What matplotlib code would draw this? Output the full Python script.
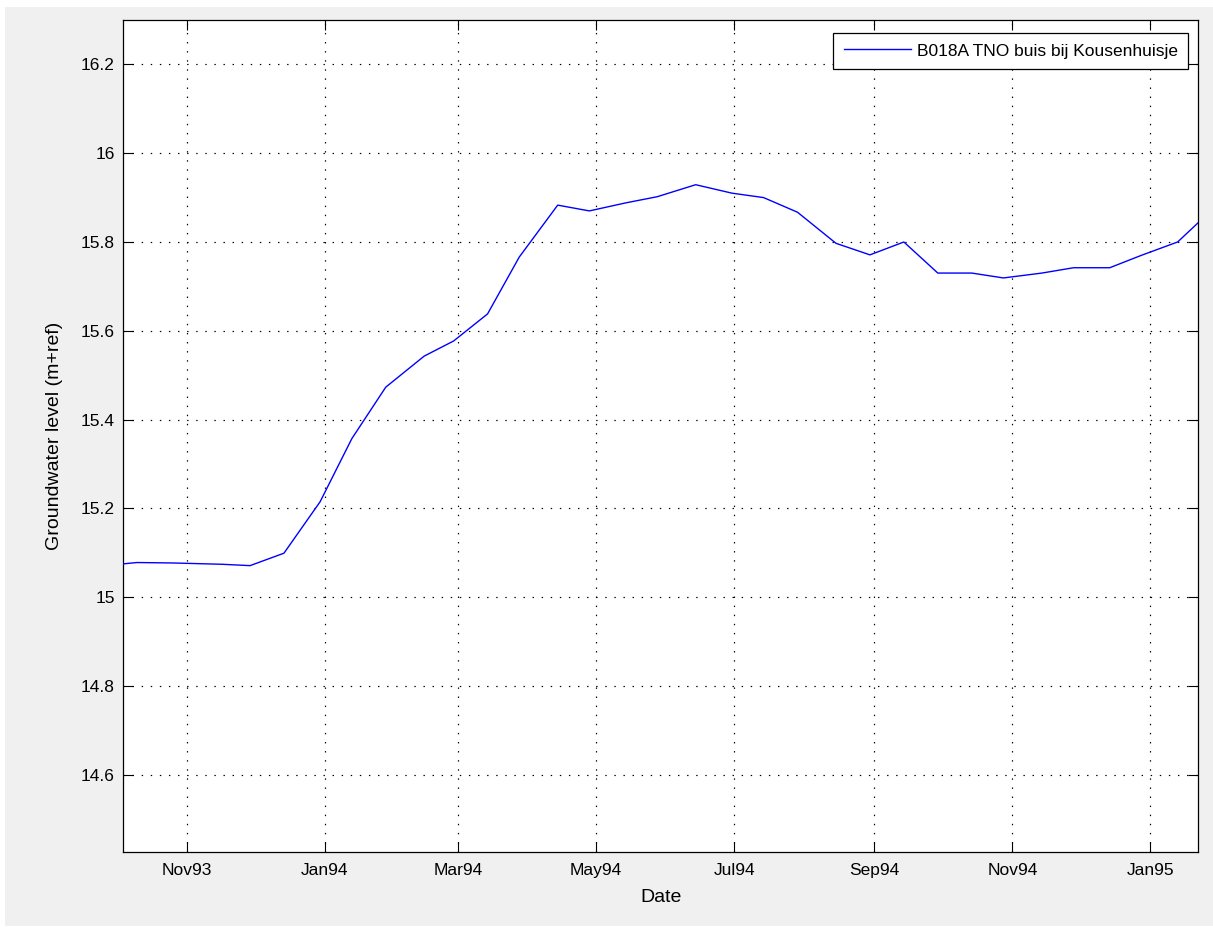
import matplotlib
matplotlib.use("Agg")
import matplotlib.pyplot as plt
import matplotlib.dates as mdates
import numpy as np
from matplotlib.patches import Rectangle
from matplotlib.ticker import FixedLocator, FixedFormatter

plt.rcParams['font.family'] = ['Liberation Sans', 'DejaVu Sans']

# ---- data ----
dates = ["1993-10-04", "1993-10-10", "1993-10-26", "1993-11-17", "1993-11-29",
         "1993-12-14", "1993-12-30", "1994-01-13", "1994-01-28", "1994-02-14",
         "1994-02-27", "1994-03-14", "1994-03-28", "1994-04-14", "1994-04-28",
         "1994-05-14", "1994-05-28", "1994-06-14", "1994-06-30", "1994-07-14",
         "1994-07-29", "1994-08-15", "1994-08-30", "1994-09-14", "1994-09-29",
         "1994-10-14", "1994-10-28", "1994-11-14", "1994-11-28", "1994-12-14",
         "1994-12-28", "1995-01-13", "1995-01-22"]
levels = [15.075, 15.078, 15.077, 15.074, 15.071,
          15.099, 15.215, 15.357, 15.473, 15.543,
          15.577, 15.638, 15.766, 15.883, 15.870,
          15.888, 15.902, 15.929, 15.910, 15.900,
          15.867, 15.797, 15.771, 15.800, 15.730,
          15.730, 15.719, 15.730, 15.742, 15.742,
          15.770, 15.800, 15.843]
series_name = "B018A TNO buis bij Kousenhuisje"

xtick_dates = ["1993-11-01", "1994-01-01", "1994-03-01", "1994-05-01",
               "1994-07-01", "1994-09-01", "1994-11-01", "1995-01-01"]
xtick_labels = ["Nov93", "Jan94", "Mar94", "May94", "Jul94", "Sep94", "Nov94", "Jan95"]
ytick_values = [14.6, 14.8, 15.0, 15.2, 15.4, 15.6, 15.8, 16.0, 16.2]
ytick_labels = ["14.6", "14.8", "15", "15.2", "15.4", "15.6", "15.8", "16", "16.2"]

W, H = 1213, 935
fig = plt.figure(figsize=(W / 100, H / 100), dpi=100, facecolor='white')
fig.patches.append(Rectangle((5 / W, 1 - 926 / H), (W - 5) / W, (926 - 7) / H,
                             transform=fig.transFigure, facecolor='#f0f0f0',
                             edgecolor='none', zorder=-10))

L, R, T, B = 123.3, 1198, 20, 852
ax = fig.add_axes([L / W, 1 - B / H, (R - L) / W, (B - T) / H])
ax.set_facecolor('white')

x = np.array(dates, dtype='datetime64[D]')
ax.plot(x, levels, color=(0, 0, 1), lw=1.0, label=series_name, zorder=3)

ax.set_xlim(np.datetime64("1993-10-04"), np.datetime64("1995-01-22"))
ax.set_ylim(14.426, 16.30)

xt = mdates.date2num(np.array(xtick_dates, dtype='datetime64[D]'))
ax.xaxis.set_major_locator(FixedLocator(xt))
ax.xaxis.set_major_formatter(FixedFormatter(xtick_labels))
ax.yaxis.set_major_locator(FixedLocator(ytick_values))
ax.yaxis.set_major_formatter(FixedFormatter(ytick_labels))

ax.grid(True, color='black', linestyle=(0, (1.2, 6.5)), linewidth=0.85, zorder=1)
ax.tick_params(direction='in', length=7.5, width=0.8, top=True, right=True,
               labelsize=12.5, colors='black')
ax.tick_params(axis='x', pad=8)
ax.tick_params(axis='y', pad=6)
for s in ax.spines.values():
    s.set_linewidth(0.9)
    s.set_color('black')

ax.set_xlabel("Date", fontsize=14)
ax.set_ylabel("Groundwater level (m+ref)", fontsize=14)
ax.xaxis.set_label_coords(0.5, -0.045)
ax.yaxis.set_label_coords(-0.056, 0.5)

leg = ax.legend(loc='upper right', bbox_to_anchor=((1188 - L) / (R - L), (B - 33) / (B - T)),
                borderaxespad=0, fancybox=False, edgecolor='black', framealpha=1,
                fontsize=12.5, handlelength=3.9, handletextpad=0.3, borderpad=0.6)
leg.get_frame().set_linewidth(0.9)

fig.savefig("out.png", dpi=100, facecolor=fig.get_facecolor())
